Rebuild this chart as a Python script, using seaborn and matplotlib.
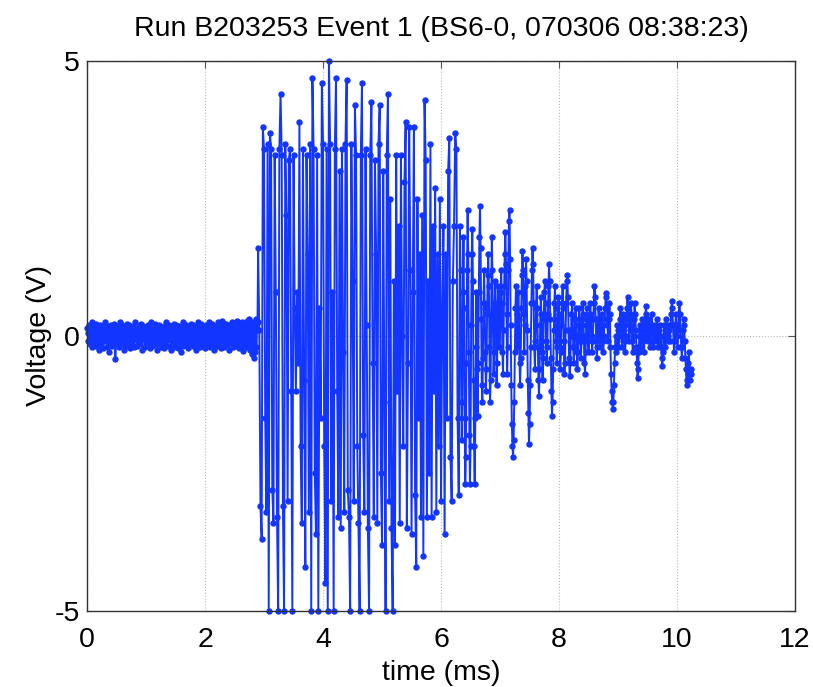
import numpy as np
import pandas as pd
import seaborn as sns
import matplotlib
matplotlib.use("Agg")
import matplotlib.pyplot as plt

# pre-trigger noise: starts 0.00 ms, sampled every 0.01 ms
noise_t0, noise_dt = 0.0, 0.01
noise_v = [
    0.15, 0.05, -0.1, 0.2, 0.08, -0.15, -0.05, 0.12, 0.25, -0.2,
    -0.08, 0.1, 0.18, -0.12, 0.03, 0.22, -0.18, -0.02, 0.15, 0.05,
    -0.25, 0.1, 0.2, -0.05, -0.15, 0.18, 0.08, -0.22, 0.12, 0.02,
    -0.1, 0.25, -0.08, 0.15, -0.2, 0.05, 0.18, -0.12, -0.3, 0.1,
    0.2, -0.05, 0.12, -0.18, 0.08, 0.22, -0.1, 0.02, -0.42, -0.15,
    0.1, 0.18, -0.08, 0.05, -0.2, 0.15, 0.25, -0.12, 0.08, -0.05,
    0.2, -0.15, 0.1, -0.25, 0.12, 0.02, -0.18, 0.22, -0.05, 0.15,
    -0.1, 0.08, 0.2, -0.22, 0.05, 0.15, -0.08, -0.15, 0.18, 0.1,
    -0.2, 0.12, 0.25, -0.05, 0.08, -0.18, 0.15, -0.1, 0.02, 0.2,
    -0.12, 0.05, 0.22, -0.25, 0.1, 0.18, -0.05, 0.12, -0.2, 0.08,
    0.15, -0.1, 0.02, 0.2, -0.15, 0.12, -0.22, 0.08, 0.25, -0.05,
    0.1, -0.18, 0.15, 0.05, -0.12, 0.22, -0.08, 0.18, -0.25, 0.02,
    0.12, -0.05, 0.2, -0.15, 0.08, -0.2, 0.15, 0.1, -0.1, 0.05,
    -0.22, 0.18, 0.02, -0.12, 0.25, -0.08, 0.12, -0.18, 0.1, 0.2,
    -0.05, 0.15, -0.25, 0.08, 0.18, -0.1, 0.05, -0.2, 0.22, -0.12,
    0.1, 0.2, -0.15, 0.02, 0.12, -0.22, 0.18, -0.05, 0.08, -0.3,
    0.15, -0.1, 0.25, -0.18, 0.05, 0.12, -0.08, 0.2, -0.15, 0.1,
    -0.02, 0.18, -0.22, 0.08, 0.15, -0.12, 0.22, -0.05, 0.1, -0.18,
    0.2, 0.05, -0.1, 0.12, -0.25, 0.18, 0.02, -0.15, 0.25, -0.08,
    0.12, -0.2, 0.05, 0.22, -0.12, 0.08, -0.18, 0.15, 0.1, -0.05,
    -0.22, 0.2, 0.12, -0.08, 0.18, -0.15, 0.05, 0.25, -0.2, 0.1,
    0.02, -0.12, 0.22, -0.05, 0.15, -0.25, 0.1, 0.18, -0.1, 0.05,
    -0.18, 0.12, 0.25, -0.15, 0.08, -0.05, 0.2, -0.22, 0.15, 0.28,
    -0.1, 0.05, 0.18, -0.2, 0.12, -0.08, 0.22, 0.1, -0.15, 0.02,
    0.2, -0.25, 0.15, 0.08, -0.12, 0.25, -0.05, 0.12, -0.2, 0.18,
    0.05, -0.15, 0.22, -0.1, 0.28, -0.18, 0.08, 0.15, -0.22, 0.1,
    -0.05, 0.2, -0.12, 0.25, 0.05, -0.28, 0.15, -0.08, 0.22, -0.15,
    0.1, 0.28, -0.2, 0.12, -0.05, 0.3, -0.25, 0.18, 0.05, -0.32,
    0.2, -0.1, 0.25, -0.4, -0.3, 0.15, 0.3, -0.2, 0.1, 0.25,
]

# saturated burst: starts 2.90 ms, sampled every 0.02 ms
burst_t0, burst_dt = 2.90, 0.02
burst_v = [
    1.6, 0.1, -3.1, -3.7, 3.8, 3.4, -1.5, -3.2, 3.5, -5.0,
    3.7, 3.4, -2.8, -3.4, 3.3, 0.8, -3.3, -5.0, 3.4, 4.4,
    3.3, -3.1, -5.0, 3.5, 2.2, -3.0, 3.2, 3.4, -1.0, -5.0,
    3.3, 0.5, -1.0, 0.8, -0.5, 3.9, -2.0, -3.4, 3.4, -0.8,
    -4.2, 3.3, 1.5, -3.2, 3.5, -5.0, 4.7, 3.4, -2.5, -3.6,
    3.3, -5.0, 0.5, -1.5, 4.6, 3.5, -2.0, -4.5, 3.4, -5.0,
    5.0, 3.5, -3.0, 0.8, -5.0, 3.4, 4.7, -1.0, -3.3, 3.0,
    -3.5, 3.4, -0.3, -3.2, 3.5, 4.65, -2.8, -3.3, -5.0, 3.5,
    1.0, -3.0, 4.2, 3.3, -2.0, -3.4, -5.0, 3.3, 4.6, -1.8,
    -3.2, 3.4, 0.2, -3.5, -5.0, 3.3, 4.25, -0.5, -3.3, 3.2,
    1.5, -3.4, 3.5, 4.2, -2.5, -3.8, 3.0, -1.2, -5.0, 3.3,
    4.4, -3.0, 2.5, -3.5, -5.0, 1.0, -3.8, 3.3, -1.0, 2.0,
    -3.4, 3.3, 0.0, -2.0, 2.8, 3.9, -3.5, -0.5, 3.8, 1.2,
    -3.6, 0.8, 3.8, -2.9, -4.2, 2.5, -1.5, 1.5, -3.3, 2.2,
    -4.0, 4.3, 3.2, -3.3, 1.0, -2.5, 3.5, -3.3, 2.0, -1.0,
    2.7, -3.2, 1.5, -2.0, 2.5, -3.0, 0.5, 2.0, -3.6, 1.5,
    -1.5, 3.0, 3.6, -2.2, -3.0, 1.0, 2.0, 3.7, 3.4, -1.5,
    -2.9,
]

# ring-down: starts 6.32 ms, sampled every 0.01 ms
decay_t0, decay_dt = 6.32, 0.01
decay_v = [
    2.0, 1.2, -0.5, -1.9, -1.2, 0.8, 1.8, 0.5, -1.5, -2.7,
    -2.2, -0.5, 1.2, 2.3, 1.5, -0.3, -1.8, -2.7, -2.0, 0.2,
    1.5, 1.95, 1.0, -0.8, -2.0, -2.7, -1.5, -0.2, 0.8, -0.6,
    -1.45, -0.5, 0.8, 1.8, 2.36, 1.6, 0.3, -0.9, -1.2, -0.4,
    0.6, 1.2, 0.5, -0.3, -1.0, -0.6, 0.4, 1.1, 1.5, 0.9,
    -0.2, -1.2, -0.8, 0.4, 1.8, 1.2, 0.1, -0.7, -0.3, 0.6,
    1.0, 0.5, -0.9, -0.5, 0.3, 0.9, 0.4, -0.2, 0.2, 0.8,
    1.2, 0.6, -0.3, -0.7, 0.1, 0.9, 1.5, 1.9, 1.3, 0.4,
    -0.7, -0.2, 1.2, 2.1, 2.3, 1.4, 0.2, -0.9, -1.6, -2.0,
    -2.2, -1.9, -1.2, -0.3, 0.5, 0.9, 0.4, -0.2, 0.3, 0.8,
    0.3, -0.5, -0.9, -0.4, 0.5, 1.1, 1.55, 1.2, 0.4, -0.3,
    0.2, 0.9, 1.4, 1.0, 0.1, -0.8, -1.4, -1.96, -1.6, -0.9,
    -0.2, 0.6, 1.2, 1.6, 1.3, 0.6, -0.2, -0.6, -0.1, 0.5,
    0.9, 0.5, -0.2, -0.8, -1.1, -0.6, 0.2, 0.7, 0.4, -0.3,
    -0.8, -0.4, 0.3, 0.8, 1.0, 0.6, -0.1, -0.5, -0.2, 0.4,
    0.9, 1.3, 1.0, 0.3, -0.4, -1.0, -1.45, -1.2, -0.6, 0.1,
    0.6, 0.9, 0.5, -0.1, -0.5, -0.2, 0.3, 0.7, 0.4, -0.2,
    -0.6, -0.3, 0.2, 0.6, 0.9, 0.5, -0.1, -0.7, -0.5, 0.1,
    0.6, 1.0, 1.1, 0.7, 0.1, -0.4, -0.73, -0.5, 0.0, 0.4,
    0.6, 0.3, -0.2, -0.5, -0.2, 0.3, 0.5, 0.2, -0.3, -0.6,
    -0.3, 0.2, 0.5, 0.3, -0.1, -0.4, -0.1, 0.3, 0.6, 0.4,
    0.0, -0.5, -0.7, -0.3, 0.2, 0.5, 0.3, -0.1, -0.3, 0.1,
    0.4, 0.6, 0.3, 0.0, -0.3, -0.1, 0.3, 0.6, 0.9, 0.7,
    0.3, -0.1, -0.4, -0.2, 0.2, 0.5, 0.3, 0.0, -0.2, 0.1,
    0.4, 0.2, -0.1, -0.3, 0.0, 0.3, 0.5, 0.7, 0.78, 0.5,
    0.2, -0.1, 0.3, 0.6, 0.4, -0.2, -0.7, -1.0, -1.2, -1.33,
    -1.2, -0.9, -0.5, -0.2, 0.0, -0.3, -0.1, 0.2, 0.1, -0.2,
    0.0, 0.3, 0.5, 0.3, 0.0, -0.2, 0.1, 0.4, 0.2, -0.1,
    -0.3, 0.0, 0.3, 0.5, 0.7, 0.5, 0.2, -0.1, 0.1, 0.4,
    0.6, 0.3, -0.1, -0.3, 0.0, 0.3, 0.6, 0.4, 0.1, -0.2,
    -0.5, -0.76, -0.6, -0.3, 0.0, 0.2, 0.0, -0.2, 0.1, 0.3,
    0.2, -0.1, -0.3, 0.0, 0.3, 0.55, 0.4, 0.1, -0.1, 0.1,
    0.3, 0.1, -0.2, -0.1, 0.2, 0.4, 0.2, -0.1, -0.2, 0.0,
    0.2, 0.1, -0.1, 0.1, 0.3, 0.1, -0.2, -0.1, 0.1, 0.2,
    0.0, -0.2, -0.4, -0.55, -0.3, 0.0, 0.2, 0.0, -0.2, 0.1,
    0.3, 0.1, -0.1, 0.0, 0.2, 0.1, -0.1, 0.2, 0.4, 0.64,
    0.5, 0.2, -0.1, -0.3, -0.1, 0.2, 0.4, 0.2, 0.0, -0.2,
    0.1, 0.4, 0.6, 0.4, 0.1, -0.2, -0.4, -0.2, 0.1, 0.3,
    0.2, -0.1, -0.4, -0.6, -0.8, -0.9, -0.7, -0.5, -0.3, -0.6,
    -0.8, -0.6, -0.7,
]

x_ticks = [0, 2, 4, 6, 8, 10, 12]
y_ticks = [-5, 0, 5]
title_text = "Run B203253 Event 1 (BS6-0, 070306 08:38:23)"
x_label = "time (ms)"
y_label = "Voltage (V)"

segments = [(noise_t0, noise_dt, noise_v), (burst_t0, burst_dt, burst_v),
            (decay_t0, decay_dt, decay_v)]
time_ms = np.concatenate([t0 + dt * np.arange(len(v)) for t0, dt, v in segments])
voltage = np.concatenate([np.asarray(v, dtype=float) for _, _, v in segments])
df = pd.DataFrame({"time": time_ms, "voltage": voltage})

sns.set_style("white")
plt.rcParams["font.family"] = ["Liberation Sans", "DejaVu Sans"]
plt.rcParams["text.color"] = "black"
plt.rcParams["axes.labelcolor"] = "black"
plt.rcParams["xtick.color"] = "black"
plt.rcParams["ytick.color"] = "black"

fig = plt.figure(figsize=(8.13, 6.87), dpi=100)
ax = fig.add_axes([0.107, 0.111, 0.871, 0.800])

line_color = "#1236ff"
sns.lineplot(data=df, x="time", y="voltage", ax=ax, estimator=None, sort=False,
             color=line_color, linewidth=1.4, marker="o", markersize=4.6,
             markeredgewidth=0, markerfacecolor=line_color, clip_on=False)

ax.set_xlim(0, 12)
ax.set_ylim(-5, 5)
ax.set_xticks(x_ticks)
ax.set_yticks(y_ticks)
ax.set_xticklabels([str(v) for v in x_ticks])
ax.set_yticklabels([str(v) for v in y_ticks])
ax.grid(True, linestyle=":", color="#bbbbbb", linewidth=0.8)
ax.set_axisbelow(True)
ax.tick_params(axis="both", direction="in", length=5, labelsize=20.5,
               top=True, right=True, color="#555555")
ax.tick_params(axis="x", pad=12)
ax.tick_params(axis="y", pad=5)
for s in ax.spines.values():
    s.set_color("#333333")
    s.set_linewidth(1.0)

ax.set_xlabel(x_label, fontsize=20.5, labelpad=5)
ax.set_ylabel(y_label, fontsize=20.5, labelpad=2)
ax.set_title(title_text, fontsize=20.5, pad=18)

fig.savefig("out.png", dpi=100, facecolor="white")
